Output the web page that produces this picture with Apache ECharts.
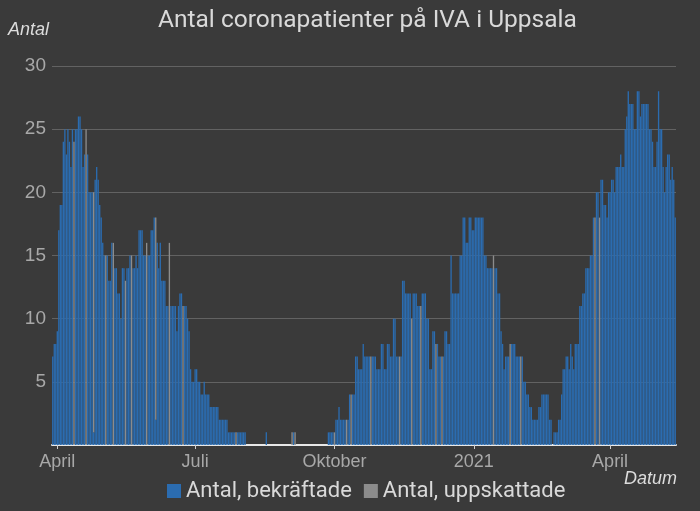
<!DOCTYPE html>
<html>
<head>
<meta charset="utf-8">
<script src="https://cdn.jsdelivr.net/npm/echarts@6/dist/echarts.min.js"></script>
<style>
  html, body { margin: 0; padding: 0; background: #3a3a3a; }
  #iva { width: 700px; height: 511px; }
</style>
</head>
<body>
<div id="iva"></div>
<script>
// första dagen i serien, en stapel per dag
var startDatum = '2020-03-29';

// antal patienter per dag (totalt)
var antal = [
  7, 8, 8, 9, 17, 19, 19, 24, 25, 23,
  25, 24, 22, 25, 24, 25, 25, 26, 26, 25,
  22, 23, 25, 23, 20, 20, 20, 20, 21, 22,
  21, 19, 18, 16, 15, 15, 15, 13, 13, 16,
  16, 14, 14, 12, 12, 10, 14, 14, 13, 14,
  14, 15, 15, 14, 14, 15, 14, 17, 17, 17,
  15, 15, 16, 15, 15, 17, 17, 18, 18, 16,
  14, 16, 13, 13, 13, 11, 11, 16, 11, 11,
  11, 11, 9, 11, 12, 12, 11, 11, 11, 10,
  9, 6, 5, 5, 6, 6, 5, 5, 4, 4,
  5, 4, 4, 4, 3, 3, 3, 3, 3, 3,
  2, 2, 2, 2, 2, 2, 1, 1, 1, 1,
  1, 1, 1, 1, 1, 1, 1, 1, 0, 0,
  0, 0, 0, 0, 0, 0, 0, 0, 0, 0,
  0, 1, 0, 0, 0, 0, 0, 0, 0, 0,
  0, 0, 0, 0, 0, 0, 0, 0, 1, 1,
  1, 0, 0, 0, 0, 0, 0, 0, 0, 0,
  0, 0, 0, 0, 0, 0, 0, 0, 0, 0,
  0, 0, 1, 1, 1, 1, 1, 2, 2, 3,
  2, 2, 2, 2, 2, 2, 4, 4, 4, 4,
  7, 7, 6, 6, 6, 8, 7, 7, 7, 7,
  7, 7, 7, 7, 6, 6, 6, 8, 8, 6,
  6, 8, 8, 7, 7, 10, 10, 7, 7, 7,
  7, 13, 13, 12, 12, 12, 12, 10, 12, 12,
  12, 11, 11, 11, 12, 12, 12, 10, 10, 6,
  6, 9, 9, 8, 8, 7, 7, 7, 7, 9,
  9, 8, 8, 15, 12, 12, 12, 12, 12, 15,
  15, 18, 18, 16, 16, 18, 18, 17, 17, 18,
  18, 18, 18, 18, 18, 15, 15, 14, 14, 14,
  14, 15, 14, 14, 12, 12, 9, 8, 6, 7,
  7, 7, 8, 8, 8, 8, 7, 7, 7, 7,
  7, 5, 5, 4, 4, 3, 3, 2, 2, 2,
  2, 3, 3, 4, 4, 4, 4, 4, 2, 2,
  0, 1, 1, 1, 2, 2, 4, 6, 6, 7,
  7, 6, 8, 7, 6, 8, 8, 8, 11, 11,
  12, 12, 14, 14, 14, 15, 15, 18, 18, 20,
  20, 18, 21, 21, 19, 19, 18, 20, 20, 21,
  21, 20, 22, 22, 22, 23, 22, 22, 25, 26,
  28, 27, 27, 27, 25, 25, 28, 28, 26, 27,
  27, 27, 27, 27, 25, 25, 24, 22, 22, 24,
  28, 25, 25, 22, 20, 22, 23, 23, 21, 22,
  21, 18
];

// dagar (index) där siffran är uppskattad
var uppskattadeDagar = [14, 22, 27, 35, 40, 48, 52, 62, 68, 77, 86, 121, 158, 160, 186, 194, 197,
  210, 229, 237, 243, 253, 257, 291, 302, 309, 358, 361];

// bekräftad del de uppskattade dagarna
var bekraftadDel = { 27: 1, 68: 2 };

// etiketter på x-axeln
var xEtikettDatum = ['2020-04-01', '2020-07-01', '2020-10-01', '2021-01-01', '2021-04-01'];
var xEtiketter = ['April', 'Juli', 'Oktober', '2021', 'April'];

var datum = [];
var d0 = new Date(startDatum + 'T12:00:00Z');
for (var i = 0; i < antal.length; i++) {
  var d = new Date(d0.getTime() + i * 86400000);
  datum.push(d.toISOString().slice(0, 10));
}

var bekraftade = [];
var uppskattade = [];
for (var i = 0; i < antal.length; i++) {
  if (uppskattadeDagar.indexOf(i) >= 0) {
    var b = bekraftadDel[i] || 0;
    bekraftade.push(b);
    uppskattade.push(antal[i] - b);
  } else {
    bekraftade.push(antal[i]);
    uppskattade.push(0);
  }
}

function visaEtikett(index, value) {
  return xEtikettDatum.indexOf(value) >= 0;
}

var chartDom = document.getElementById('iva');
var myChart = echarts.init(chartDom);
var option;

option = {
  backgroundColor: '#3a3a3a',
  animation: false,
  title: {
    text: 'Antal coronapatienter på IVA i Uppsala',
    left: 153,
    top: 3,
    textStyle: {
      color: '#d9d9d9',
      fontSize: 24.5,
      fontWeight: 'normal',
      fontFamily: 'Roboto, sans-serif'
    }
  },
  graphic: [
    {
      type: 'text', left: 8, top: 21,
      style: { text: 'Antal', fill: '#dcdcdc', font: 'italic 18px Liberation Sans, sans-serif' }
    },
    {
      type: 'text', right: 23, top: 470,
      style: { text: 'Datum', fill: '#dcdcdc', font: 'italic 18px Liberation Sans, sans-serif' }
    }
  ],
  legend: {
    data: ['Antal, bekräftade', 'Antal, uppskattade'],
    bottom: 4,
    left: 162,
    icon: 'rect',
    itemWidth: 14,
    itemHeight: 14,
    itemGap: 12,
    textStyle: {
      color: '#d9d9d9',
      fontSize: 22,
      fontFamily: 'Roboto, sans-serif'
    }
  },
  grid: {
    left: 52,
    right: 24,
    top: 66,
    bottom: 66,
    containLabel: false,
    outerBoundsMode: 'none'
  },
  xAxis: {
    type: 'category',
    data: datum,
    axisLine: { lineStyle: { color: '#e8e8e8', width: 2 } },
    axisTick: {
      show: true,
      interval: visaEtikett,
      alignWithLabel: true,
      length: 4,
      lineStyle: { color: '#cfcfcf' }
    },
    axisLabel: {
      interval: visaEtikett,
      formatter: function (v) { return xEtiketter[xEtikettDatum.indexOf(v)]; },
      color: '#a8a8a8',
      fontSize: 18,
      margin: 8,
      fontFamily: 'Liberation Sans, sans-serif'
    },
    splitLine: { show: false }
  },
  yAxis: {
    type: 'value',
    min: 0,
    max: 30,
    interval: 5,
    axisLine: { show: false },
    axisTick: { show: false },
    axisLabel: {
      color: '#a8a8a8',
      fontSize: 19,
      margin: 6,
      fontFamily: 'Liberation Sans, sans-serif',
      formatter: function (v) { return v === 0 ? '' : v; }
    },
    splitLine: { lineStyle: { color: '#626262', width: 1 } }
  },
  series: [
    {
      name: 'Antal, bekräftade',
      type: 'bar',
      stack: 'antal',
      barCategoryGap: '12%',
      itemStyle: { color: '#2b6cb0' },
      data: bekraftade
    },
    {
      name: 'Antal, uppskattade',
      type: 'bar',
      stack: 'antal',
      barCategoryGap: '12%',
      itemStyle: { color: '#8c8c8c' },
      data: uppskattade
    }
  ]
};

option && myChart.setOption(option);
</script>
</body>
</html>
